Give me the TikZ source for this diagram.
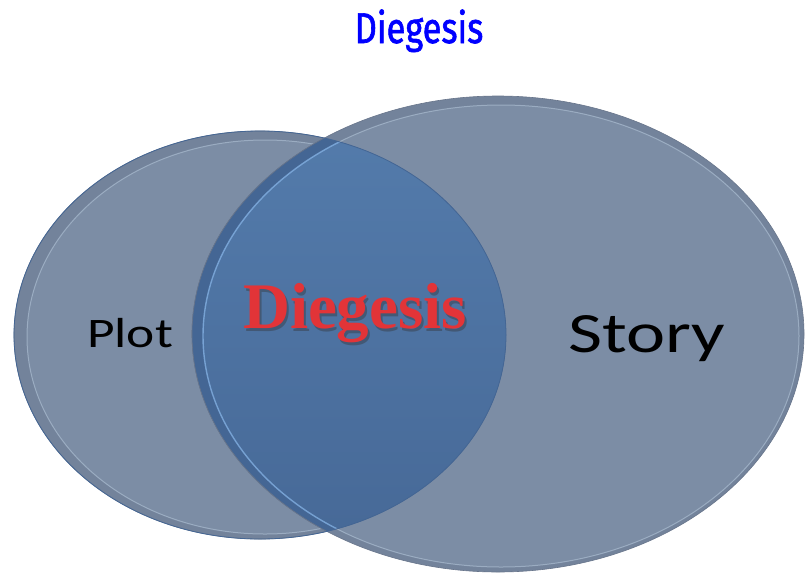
\documentclass[tikz,border=0pt]{standalone}
\usepackage{fontspec}
\newfontfamily\titlefont[FakeBold=1.6]{Fira Sans}
\newfontfamily\labelfont{Carlito}
\newfontfamily\headfont{Liberation Serif}
\definecolor{setfill}{RGB}{124,141,165}
\definecolor{setband}{RGB}{115,131,155}
\definecolor{setedge}{RGB}{104,117,139}
\definecolor{setrim}{RGB}{170,188,208}
\definecolor{meettop}{RGB}{84,124,172}
\definecolor{meetbottom}{RGB}{70,104,150}
\definecolor{meetband}{RGB}{68,102,148}
\definecolor{meetrim}{RGB}{130,175,225}
\definecolor{titleblue}{RGB}{0,0,255}
\definecolor{diegred}{RGB}{226,52,56}
\tikzset{
  setouter/.style={fill=setband, draw=setedge, line width=0.6pt},
  setinner/.style={fill=setfill, draw=setrim, line width=1pt, draw opacity=0.7},
  setlabel/.style={font=\labelfont\fontsize{42}{42}\selectfont, text=black, anchor=base, inner sep=0pt},
  headlabel/.style={anchor=base, inner sep=0pt, font=\headfont\bfseries\fontsize{65}{65}\selectfont}
}
\begin{document}
\begin{tikzpicture}[x=1pt,y=-1pt]
  \useasboundingbox (0,0) rectangle (805,573);
  \fill[white] (0,0) rectangle (805,573);
  % Plot set
  \draw[setouter] (260,335) ellipse [x radius=246, y radius=204];
  \draw[setinner] (265,337) ellipse [x radius=238, y radius=197];
  % Story set
  \draw[setouter] (498,334) ellipse [x radius=306, y radius=238];
  \draw[setinner] (501,336) ellipse [x radius=298, y radius=231];
  % overlap of the two sets
  \begin{scope}
    \clip (260,335) ellipse [x radius=246, y radius=204];
    \fill[meetband] (498,334) ellipse [x radius=306, y radius=238];
    \shade[top color=meettop, bottom color=meetbottom] (501,336) ellipse [x radius=298, y radius=231];
    \draw[draw=meetrim, line width=1.4pt, opacity=0.8] (501,336) ellipse [x radius=298, y radius=231];
    \draw[draw=setedge, line width=0.6pt] (498,334) ellipse [x radius=306, y radius=238];
  \end{scope}
  \draw[draw=meetband, line width=0.8pt] (260,335) ellipse [x radius=246, y radius=204];
  % labels
  \node[setlabel, xscale=1.27] (plot) at (130,347) {Plot};
  \node[setlabel, xscale=1.3, font=\labelfont\fontsize{57}{57}\selectfont] (story) at (647,352) {Story};
  \node[headlabel, text=black!80, opacity=0.4] (meetshadow) at (357,331) {Diegesis};
  \node[headlabel, text=diegred] (meet) at (355,328) {Diegesis};
  \node[anchor=base, inner sep=0pt, text=titleblue, xscale=0.8,
        font=\titlefont\fontsize{43}{43}\selectfont] (title) at (419,43) {Diegesis};
\end{tikzpicture}
\end{document}
